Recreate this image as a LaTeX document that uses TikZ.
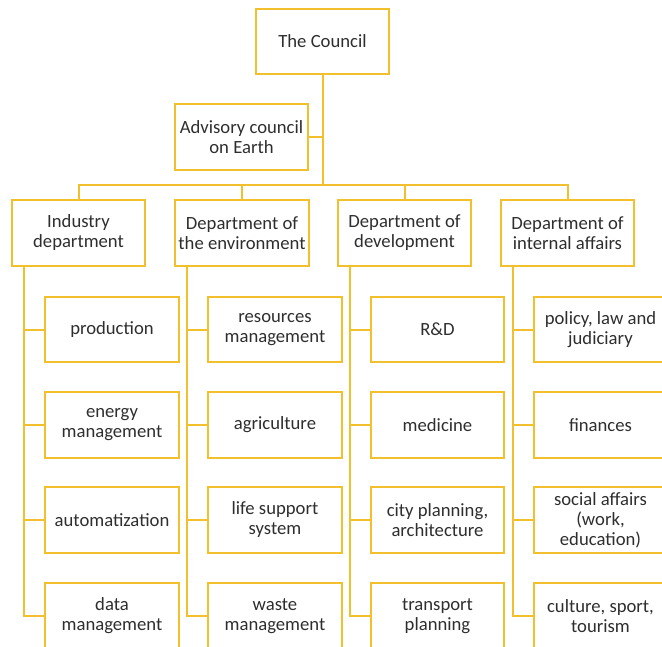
\documentclass[tikz,border=0pt]{standalone}
\usepackage{fontspec}
\setmainfont{Carlito}
\definecolor{gold}{RGB}{243,192,45}
\tikzset{
  box/.style={draw=gold, line width=1.5pt, minimum width=100pt, minimum height=49pt,
    inner sep=2pt, align=center, text=black!82, font=\fontsize{14}{15}\selectfont},
  link/.style={draw=gold, line width=1.5pt}
}
\begin{document}
\begin{tikzpicture}[x=0.75pt, y=-0.75pt]
    \useasboundingbox (0,0) rectangle (662,647);
    \clip (0,0) rectangle (662,647);

    \node[box] (council) at (322.5, 41.5) {The Council};
    \node[box] (advisory) at (241.5, 137) {Advisory council\\on Earth};
    \coordinate (bus) at (322.5, 185);

    \node[box] (industry) at (78.5, 233) {Industry\\department};
    \node[box] (environment) at (242, 233) {Department of\\the environment};
    \node[box] (development) at (404.5, 233) {Department of\\development};
    \node[box] (internal) at (567.5, 233) {Department of\\internal affairs};

    \node[box] (production) at (112, 329.5) {production};
    \node[box] (energy) at (112, 425) {energy\\management};
    \node[box] (automatization) at (112, 520) {automatization};
    \node[box] (data) at (112, 616) {data\\management};

    \node[box] (resources) at (275, 329.5) {resources\\management};
    \node[box] (agriculture) at (275, 425) {agriculture};
    \node[box] (lifesupport) at (275, 520) {life support\\system};
    \node[box] (waste) at (275, 616) {waste\\management};

    \node[box] (rnd) at (437.5, 329.5) {R\&D};
    \node[box] (medicine) at (437.5, 425) {medicine};
    \node[box] (cityplanning) at (437.5, 520) {city planning,\\architecture};
    \node[box] (transport) at (437.5, 616) {transport\\planning};

    \node[box] (policy) at (600.5, 329.5) {policy, law and\\judiciary};
    \node[box] (finances) at (600.5, 425) {finances};
    \node[box] (social) at (600.5, 520) {social affairs\\(work,\\education)};
    \node[box] (culture) at (600.5, 616) {culture, sport,\\tourism};

    % top of the tree
    \draw[link] (council.south) -- (bus);
    \draw[link] (advisory.east) -- (advisory.east -| bus);
    \draw[link] (industry.north) |- (bus) -| (internal.north);
    \draw[link] (environment.north) -- (environment.north |- bus);
    \draw[link] (development.north) -- (development.north |- bus);

    % trunks down to the sections
    \draw[link] ([xshift=9.75pt]industry.south west) |- (data.west);
    \draw[link] (production.west) -- ++(-20,0);
    \draw[link] (energy.west) -- ++(-20,0);
    \draw[link] (automatization.west) -- ++(-20,0);

    \draw[link] ([xshift=9.75pt]environment.south west) |- (waste.west);
    \draw[link] (resources.west) -- ++(-20,0);
    \draw[link] (agriculture.west) -- ++(-20,0);
    \draw[link] (lifesupport.west) -- ++(-20,0);

    \draw[link] ([xshift=9.75pt]development.south west) |- (transport.west);
    \draw[link] (rnd.west) -- ++(-20,0);
    \draw[link] (medicine.west) -- ++(-20,0);
    \draw[link] (cityplanning.west) -- ++(-20,0);

    \draw[link] ([xshift=9.75pt]internal.south west) |- (culture.west);
    \draw[link] (policy.west) -- ++(-20,0);
    \draw[link] (finances.west) -- ++(-20,0);
    \draw[link] (social.west) -- ++(-20,0);
\end{tikzpicture}
\end{document}
